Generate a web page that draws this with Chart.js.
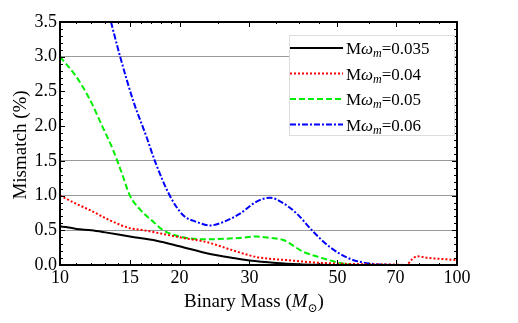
<!DOCTYPE html>
<html>
<head>
<meta charset="utf-8">
<script src="https://cdn.jsdelivr.net/npm/chart.js@4/dist/chart.umd.min.js"></script>
<style>
  html,body{margin:0;padding:0;background:#fff;}
  #wrap{width:518px;height:323px;position:relative;}
</style>
</head>
<body>
<div id="wrap"><canvas id="myChart" width="518" height="323"></canvas></div>
<script>
// data (mass in solar masses, mismatch in %)
const labels = ["0.035", "0.04", "0.05", "0.06"];

const mass035 = [10, 11, 12, 13, 15, 17.5, 20, 23.4, 27.3, 30, 35, 40, 45, 50];
const mis035 = [0.56, 0.52, 0.50, 0.47, 0.41, 0.35, 0.27, 0.17, 0.10, 0.065, 0.03, 0.012, 0.004, 0];

const mass04 = [10, 11, 11.9, 13.4, 15, 15.9, 17, 20.4, 23.4, 27.3, 31.3, 37.9, 44, 50, 60, 70, 74.5, 77, 79.3, 85, 90, 100];
const mis04 = [1.0, 0.88, 0.79, 0.64, 0.53, 0.51, 0.48, 0.39, 0.33, 0.21, 0.114, 0.067, 0.035, 0.02, 0.01, 0.005, 0.0, 0.08, 0.125, 0.10, 0.09, 0.07];

const mass05 = [10, 11, 11.9, 12.8, 13.6, 14.3, 15, 15.9, 17.2, 18.2, 20.4, 23.4, 28.4, 31.2, 33.8, 36.5, 41, 45.2, 49.8, 55];
const mis05 = [3.0, 2.71, 2.38, 1.99, 1.66, 1.33, 1.0, 0.80, 0.62, 0.50, 0.40, 0.37, 0.39, 0.41, 0.39, 0.36, 0.19, 0.11, 0.04, 0];

const mass06 = [13.44, 14.16, 15.3, 16.53, 17.36, 18.9, 20.4, 22.1, 23.9, 25.8, 28.4, 31.2, 33.8, 36.5, 39.5, 43.1, 47.8, 53.7, 60.4, 66.5, 70];
const mis06 = [3.5, 3.01, 2.36, 1.84, 1.49, 1.0, 0.72, 0.62, 0.57, 0.62, 0.74, 0.91, 0.97, 0.89, 0.74, 0.50, 0.26, 0.09, 0.02, 0.005, 0];

const xTicks = [10, 15, 20, 30, 50, 70, 100];
const xMinor = [11, 12, 13, 14, 16, 17, 18, 19, 25, 35, 40, 45, 60, 80, 90];
const yGridAt = [0.5, 1.0, 1.5, 3.0];

const serif = "'Liberation Serif', 'DejaVu Serif', serif";

function pts(xs, ys){
  return xs.map((x,i)=>({x:x, y:ys[i]}));
}

const colors = ["#000000", "#ff0000", "#00ee00", "#0000ff"];
const dashes = [[], [2,2], [6,3], [6,2,2,2]];
const series = [pts(mass035,mis035), pts(mass04,mis04), pts(mass05,mis05), pts(mass06,mis06)];

const datasets = series.map((d,i)=>({
  label: labels[i],
  data: d,
  borderColor: colors[i],
  borderWidth: 2,
  borderDash: dashes[i],
  pointRadius: 0,
  fill: false,
  cubicInterpolationMode: 'monotone'
}));

// frame, inner ticks, legend and axis titles
const decor = {
  id: 'decor',
  afterDraw(chart){
    const c = chart.ctx, a = chart.chartArea;
    const xs = chart.scales.x, ys = chart.scales.y;
    c.save();
    c.strokeStyle = '#000';
    c.lineWidth = 1;
    // y ticks, both sides
    for(let k=0;k<=35;k++){
      const v = k/10;
      const py = Math.round(ys.getPixelForValue(v))+0.5;
      const len = (k%5===0) ? 5 : 3;
      c.beginPath();
      c.moveTo(a.left, py); c.lineTo(a.left+len, py);
      c.moveTo(a.right, py); c.lineTo(a.right-len, py);
      c.stroke();
    }
    // x ticks, top and bottom
    xTicks.concat(xMinor).forEach(v=>{
      const px = Math.round(xs.getPixelForValue(v))+0.5;
      const len = xTicks.includes(v) ? 5 : 2;
      c.beginPath();
      c.moveTo(px, a.bottom); c.lineTo(px, a.bottom-len);
      c.moveTo(px, a.top); c.lineTo(px, a.top+len);
      c.stroke();
    });
    // frame
    c.lineWidth = 2;
    c.strokeRect(a.left, a.top, a.right-a.left, a.bottom-a.top);

    // legend
    const lx = 289, ly = 35, lw = 166, lh = 101;
    c.fillStyle = '#fff';
    c.fillRect(lx, ly, lw, lh);
    c.strokeStyle = '#ddd';
    c.lineWidth = 1;
    c.strokeRect(lx+0.5, ly+0.5, lw-1, lh-1);
    chart.data.datasets.forEach((ds,i)=>{
      const yy = 48 + i*25.5;
      c.strokeStyle = ds.borderColor;
      c.lineWidth = 2;
      c.setLineDash(ds.borderDash);
      c.beginPath();
      c.moveTo(lx+1, yy); c.lineTo(lx+54, yy);
      c.stroke();
      c.setLineDash([]);
      c.fillStyle = '#000';
      c.textBaseline = 'alphabetic';
      c.textAlign = 'left';
      let tx = lx+57, ty = yy+6;
      c.font = "17px " + serif;
      c.fillText("M", tx, ty); tx += c.measureText("M").width;
      c.font = "italic 17px " + serif;
      c.fillText("\u03c9", tx, ty); tx += c.measureText("\u03c9").width;
      c.font = "italic 12px " + serif;
      c.fillText("m", tx, ty+3); tx += c.measureText("m").width;
      c.font = "17px " + serif;
      c.fillText("=" + ds.label, tx, ty);
    });

    // x title
    c.fillStyle = '#000';
    c.textBaseline = 'alphabetic';
    const parts = [["Binary Mass (", "19px "], ["M", "italic 19px "], ["\u2299", "12px "], [")", "19px "]];
    let w = 0;
    parts.forEach(p=>{ c.font = p[1]+serif; w += c.measureText(p[0]).width; });
    let tx = 254 - w/2;
    parts.forEach(p=>{
      c.font = p[1]+serif;
      c.fillText(p[0], tx, p[0]==="\u2299" ? 312 : 307);
      tx += c.measureText(p[0]).width;
    });
    // y title
    c.translate(26, 145);
    c.rotate(-Math.PI/2);
    c.textAlign = 'center';
    c.font = "19px " + serif;
    c.fillText("Mismatch (%)", 0, 0);
    c.restore();
  }
};

new Chart("myChart", {
  type: "line",
  data: { datasets: datasets },
  options: {
    responsive: false,
    animation: false,
    layout: { padding: { left: 0, top: 22, right: 61, bottom: 0 } },
    plugins: { legend: { display: false }, tooltip: { enabled: false } },
    scales: {
      x: {
        type: 'logarithmic',
        min: 10, max: 100,
        afterBuildTicks: s => { s.ticks = xTicks.map(v=>({value:v})); },
        afterFit: s => { s.height = 58; },
        grid: { display: false, drawTicks: false },
        border: { display: false },
        ticks: {
          color: '#000', padding: 2, maxRotation: 0, autoSkip: false,
          font: { family: serif, size: 18 },
          callback: v => String(v)
        }
      },
      y: {
        min: 0, max: 3.5,
        afterFit: s => { s.width = 60; },
        grid: {
          drawTicks: false,
          lineWidth: 1,
          color: ctx => yGridAt.includes(ctx.tick.value) ? '#999' : 'rgba(0,0,0,0)'
        },
        border: { display: false },
        ticks: {
          stepSize: 0.5, color: '#000', padding: 3,
          font: { family: serif, size: 18 },
          callback: v => Number(v).toFixed(1)
        }
      }
    }
  },
  plugins: [decor]
});
</script>
</body>
</html>
